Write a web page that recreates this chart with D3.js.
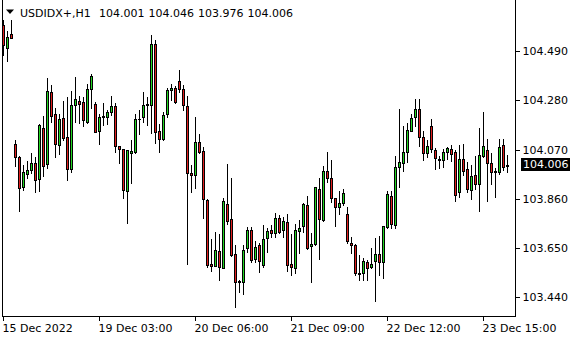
<!DOCTYPE html>
<html>
<head>
<meta charset="utf-8">
<script src="https://cdn.jsdelivr.net/npm/d3@7"></script>
<style>
  html, body { margin: 0; padding: 0; background: #fff; }
  svg { display: block; font-family: "DejaVu Sans", Verdana, sans-serif; }
</style>
</head>
<body>
<svg id="chart" width="580" height="340"></svg>
<script>
const symbol = "USDIDX+,H1";

const opens = [104.601,104.504,104.561,104.094,104.037,103.912,103.967,103.984,104.012,103.944,
104.161,104.007,104.314,104.220,104.088,104.203,104.122,103.986,104.259,104.277,
104.272,104.189,104.327,104.263,104.151,104.208,104.208,104.229,104.256,104.085,
104.071,103.894,104.054,104.058,104.198,104.208,104.259,104.260,104.520,104.148,
104.114,104.220,104.323,104.331,104.362,104.328,104.256,103.970,103.961,104.102,
104.064,103.855,103.583,103.573,103.638,103.565,103.838,103.775,103.625,103.510,
103.507,103.652,103.728,103.603,103.664,103.579,103.691,103.728,103.714,103.780,
103.725,103.762,103.580,103.565,103.722,103.742,103.834,103.657,103.668,103.902,
103.769,103.979,103.948,103.863,103.827,103.840,103.796,103.671,103.664,103.542,
103.542,103.590,103.569,103.593,103.624,103.590,103.740,103.871,103.749,103.995,
104.012,104.061,104.149,104.208,104.242,104.125,104.054,104.169,104.067,104.030,
104.025,104.058,104.071,104.058,103.888,104.029,103.987,103.897,103.961,103.922,
104.042,104.067,104.012,103.980,103.976,104.088,104.001];

const highs = [104.622,104.575,104.622,104.111,104.043,104.004,104.019,104.056,104.037,104.179,
104.213,104.375,104.345,104.246,104.220,104.277,104.295,104.320,104.379,104.298,
104.295,104.348,104.392,104.272,104.220,104.267,104.239,104.298,104.267,104.087,
104.073,104.069,104.111,104.220,104.239,104.315,104.295,104.558,104.537,104.179,
104.229,104.331,104.351,104.341,104.409,104.345,104.298,104.004,104.209,104.137,
104.080,103.857,103.689,103.720,103.711,103.865,104.009,103.949,103.664,103.512,
103.664,103.739,103.739,103.681,103.671,103.749,103.735,103.749,103.801,103.789,
103.783,103.797,103.709,103.752,103.770,103.844,103.872,103.715,103.912,103.948,
104.000,104.061,104.026,103.865,103.894,103.902,103.826,103.698,103.666,103.621,
103.607,103.600,103.650,103.692,103.703,103.745,103.895,103.895,104.043,104.243,
104.172,104.183,104.223,104.286,104.286,104.149,104.111,104.200,104.078,104.043,
104.071,104.081,104.090,104.068,104.090,104.094,104.017,104.004,104.043,104.162,
104.229,104.115,104.056,103.990,104.115,104.115,104.046];

const lows = [104.473,104.449,104.544,104.001,103.806,103.899,103.950,103.969,103.887,103.895,
103.959,103.993,104.189,104.036,104.053,104.111,103.938,103.976,104.189,104.185,
104.172,104.183,104.246,104.145,104.093,104.175,104.180,104.217,104.061,104.012,
103.865,103.755,103.929,104.055,104.136,104.189,104.175,104.139,104.097,104.061,
104.112,104.208,104.283,104.270,104.317,104.240,103.582,103.887,103.908,104.054,
103.780,103.571,103.554,103.572,103.512,103.563,103.753,103.618,103.397,103.461,
103.454,103.631,103.590,103.590,103.548,103.571,103.635,103.698,103.695,103.716,
103.699,103.553,103.536,103.544,103.627,103.718,103.647,103.507,103.664,103.605,
103.767,103.931,103.848,103.742,103.797,103.833,103.671,103.627,103.533,103.515,
103.513,103.513,103.566,103.425,103.533,103.524,103.735,103.737,103.735,103.912,
103.980,104.016,104.147,104.172,104.087,104.027,104.036,104.061,103.986,103.993,
103.997,104.030,104.019,103.852,103.868,103.961,103.890,103.860,103.901,103.806,
104.040,103.852,103.922,103.868,103.967,103.982,103.976];

const closes = [104.516,104.551,104.547,104.037,103.908,103.975,103.983,104.012,103.938,104.175,
104.001,104.320,104.214,104.093,104.200,104.121,103.986,104.260,104.284,104.266,
104.197,104.327,104.384,104.146,104.208,104.214,104.229,104.254,104.087,104.074,
103.897,104.067,104.064,104.200,104.202,104.259,104.264,104.520,104.144,104.114,
104.217,104.323,104.331,104.272,104.327,104.259,103.969,103.961,104.102,104.058,
103.858,103.576,103.573,103.641,103.569,103.851,103.767,103.621,103.505,103.506,
103.641,103.728,103.597,103.655,103.593,103.689,103.723,103.714,103.780,103.720,
103.766,103.577,103.569,103.728,103.736,103.838,103.652,103.668,103.910,103.772,
103.979,103.950,103.863,103.824,103.841,103.884,103.678,103.662,103.542,103.539,
103.596,103.567,103.583,103.624,103.590,103.743,103.880,103.752,103.995,104.016,
104.058,104.152,104.203,104.244,104.122,104.054,104.087,104.071,104.033,104.027,
104.058,104.076,104.053,103.878,104.029,103.980,103.901,103.959,103.921,104.046,
104.087,104.012,103.973,103.975,104.082,103.997,104.006];

const yTicks = [103.440, 103.650, 103.860, 104.070, 104.280, 104.490];
const xTickIndex = [0, 24, 48, 72, 96, 120];
const xTickLabels = ["15 Dec 2022", "19 Dec 03:00", "20 Dec 06:00", "21 Dec 09:00", "22 Dec 12:00", "23 Dec 15:00"];

const bars = opens.map((o, i) => ({ i, o, h: highs[i], l: lows[i], c: closes[i] }));

const svg = d3.select("#chart");
const W = 580, H = 340;
const plotRight = 515.5, plotBottom = 316.5, plotLeft = 2.5;

const x = d3.scaleLinear().domain([0, bars.length - 1]).range([3.3, 507.3]);
const y = d3.scaleLinear().domain([103.44, 104.49]).range([297.3, 51]);

const UP = "#22d622", DOWN = "#e01e1e";

// frame lines
svg.append("line").attr("x1", plotLeft).attr("x2", plotLeft).attr("y1", 0).attr("y2", plotBottom)
  .attr("stroke", "#000").attr("stroke-width", 1).attr("shape-rendering", "crispEdges");

// candles
const g = svg.append("g").attr("shape-rendering", "crispEdges");
bars.forEach(b => {
  const px = Math.floor(x(b.i));
  const yh = Math.round(y(b.h)), yl = Math.round(y(b.l));
  const top = Math.round(y(Math.max(b.o, b.c)));
  const bot = Math.round(y(Math.min(b.o, b.c)));
  g.append("line").attr("x1", px + 0.5).attr("x2", px + 0.5)
    .attr("y1", yh).attr("y2", yl + 1).attr("stroke", "#000").attr("stroke-width", 1);
  const hgt = Math.max(1, bot - top + 1);
  g.append("rect").attr("x", px - 1).attr("y", top).attr("width", 3).attr("height", hgt).attr("fill", "#000");
  if (hgt > 2) {
    g.append("rect").attr("x", px).attr("y", top + 1).attr("width", 1).attr("height", hgt - 2)
      .attr("fill", b.c >= b.o ? UP : DOWN);
  }
});

// right axis
const yAxis = d3.axisRight(y).tickValues(yTicks).tickSize(4).tickPadding(3).tickFormat(d3.format(".3f"));
const ya = svg.append("g").attr("transform", `translate(${plotRight},0)`).call(yAxis);
ya.select(".domain").remove();
ya.selectAll(".tick line").attr("stroke", "#000").attr("x1", 0.5).attr("x2", 4.5).attr("shape-rendering", "crispEdges");
ya.selectAll(".tick text").attr("fill", "#000").attr("font-size", 11).attr("font-family", "DejaVu Sans");
svg.append("line").attr("x1", plotRight).attr("x2", plotRight).attr("y1", 0).attr("y2", plotBottom + 0.5)
  .attr("stroke", "#000").attr("shape-rendering", "crispEdges");

// bottom axis
const xAxis = d3.axisBottom(x).tickValues(xTickIndex).tickSize(4).tickPadding(4)
  .tickFormat((d, k) => xTickLabels[k]);
const xa = svg.append("g").attr("transform", `translate(0,${plotBottom})`).call(xAxis);
xa.select(".domain").remove();
xa.selectAll(".tick").attr("transform", d => `translate(${Math.floor(x(d)) + 0.5},0)`);
xa.selectAll(".tick line").attr("stroke", "#000").attr("y1", 0.5).attr("y2", 4).attr("shape-rendering", "crispEdges");
xa.selectAll(".tick text").attr("fill", "#000").attr("font-size", 11).attr("font-family", "DejaVu Sans")
  .attr("text-anchor", "start").attr("x", -1);
svg.append("line").attr("x1", plotLeft - 0.5).attr("x2", plotRight + 0.5).attr("y1", plotBottom).attr("y2", plotBottom)
  .attr("stroke", "#000").attr("shape-rendering", "crispEdges");

// current price label
const last = bars[bars.length - 1];
const yc = y(last.c);
svg.append("rect").attr("x", 521).attr("y", Math.round(yc - 6.5)).attr("width", 49).attr("height", 13).attr("fill", "#000");
svg.append("text").attr("x", 523).attr("y", yc).attr("dy", "0.35em")
  .attr("fill", "#fff").attr("font-size", 11).text(d3.format(".3f")(last.c));

// header
svg.append("path").attr("d", "M6,9.5 L14,9.5 L10,14 Z").attr("fill", "#000");
svg.append("text").attr("x", 20).attr("y", 17).attr("font-size", 11).attr("fill", "#000").text(symbol);
const hdrVals = [last.o, last.h, last.l, last.c];
const hdrX = [99, 148.5, 198, 247.5];
hdrVals.forEach((v, k) => {
  svg.append("text").attr("x", hdrX[k]).attr("y", 17).attr("font-size", 11).attr("fill", "#000")
    .text(d3.format(".3f")(v));
});
</script>
</body>
</html>
